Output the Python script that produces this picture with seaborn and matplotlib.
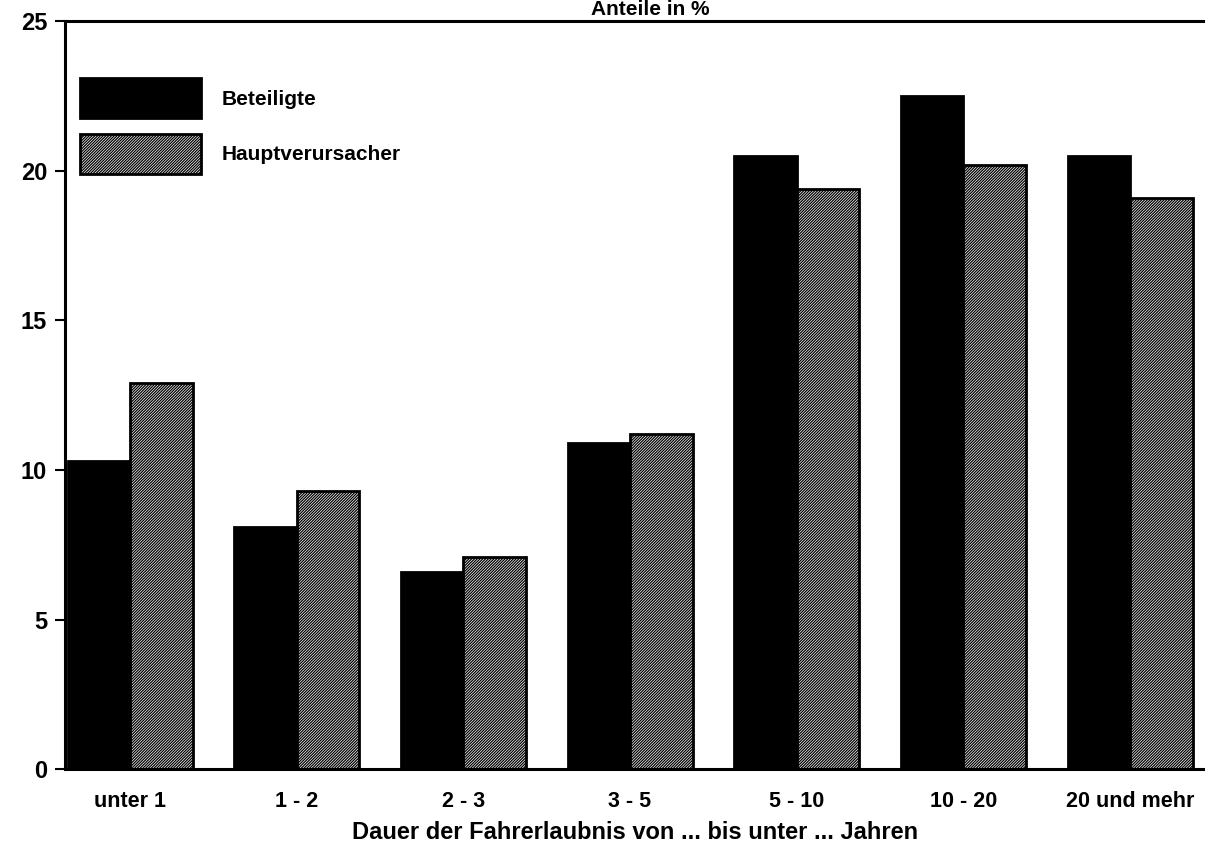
import numpy as np
import pandas as pd
import matplotlib
matplotlib.use("Agg")
import matplotlib.pyplot as plt
import seaborn as sns

# Daten
kategorien = ["unter 1", "1 - 2", "2 - 3", "3 - 5", "5 - 10", "10 - 20", "20 und mehr"]
beteiligte = [10.3, 8.1, 6.6, 10.9, 20.5, 22.5, 20.5]
hauptverursacher = [12.9, 9.3, 7.1, 11.2, 19.4, 20.2, 19.1]
gruppen = ["Beteiligte", "Hauptverursacher"]

df = pd.DataFrame({
    "kategorie": kategorien * 2,
    "anteil": beteiligte + hauptverursacher,
    "gruppe": [gruppen[0]] * len(kategorien) + [gruppen[1]] * len(kategorien),
})

sns.set_style("white")
plt.rcParams['font.family'] = ['Liberation Sans', 'DejaVu Sans']
plt.rcParams['hatch.linewidth'] = 0.9
plt.rcParams['text.color'] = 'black'
plt.rcParams['axes.labelcolor'] = 'black'
plt.rcParams['xtick.color'] = 'black'
plt.rcParams['ytick.color'] = 'black'

fig = plt.figure(figsize=(12.05, 8.48), dpi=100)
ax = fig.add_axes([0.054, 0.093, 0.946, 0.882])

sns.barplot(data=df, x="kategorie", y="anteil", hue="gruppe", order=kategorien,
            hue_order=gruppen, palette=["black", "white"], width=0.75,
            edgecolor="black", linewidth=2, saturation=1, legend=False, ax=ax)

# Schraffur fuer Hauptverursacher
for bar in ax.containers[1]:
    bar.set_facecolor("white")
    bar.set_edgecolor("black")
    bar.set_hatch("/" * 12)

ax.set_ylim(0, 25)
ax.set_xlim(-0.39, 6.45)
ax.set_yticks([0, 5, 10, 15, 20, 25])
ax.tick_params(axis="y", length=7, width=1.5, labelsize=17, direction="out", left=True, pad=6)
ax.tick_params(axis="x", length=0, labelsize=15.5, pad=16)
for lbl in ax.get_xticklabels() + ax.get_yticklabels():
    lbl.set_fontweight("bold")

ax.set_xlabel("Dauer der Fahrerlaubnis von ... bis unter ... Jahren",
              fontsize=17, fontweight="bold", labelpad=6)
ax.set_ylabel("")

for s in ["left", "bottom", "top"]:
    ax.spines[s].set_linewidth(2.2)
    ax.spines[s].set_color("black")
ax.spines["right"].set_visible(False)

fig.text(0.54, 1.0, "Anteile in %", ha="center", va="top",
         fontsize=15, fontweight="bold")

leg = ax.legend(handles=[ax.containers[0], ax.containers[1]], labels=gruppen,
                loc="upper left", bbox_to_anchor=(0.013, 0.924), frameon=False,
                borderaxespad=0, borderpad=0,
                handlelength=5.8, handleheight=2.6, handletextpad=1.0,
                labelspacing=0.75, prop={"size": 15, "weight": "bold"})

plt.savefig("out.png", dpi=100)
